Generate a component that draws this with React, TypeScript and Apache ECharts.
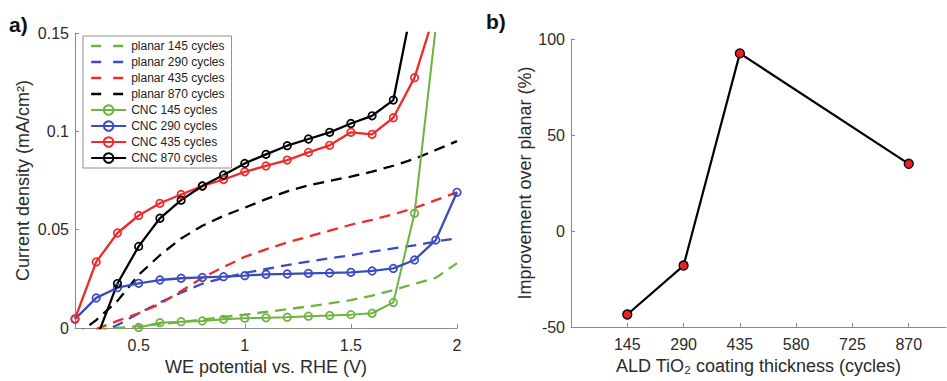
import React, { useEffect, useRef } from "react";
import * as echarts from "echarts";

// ---------- Data: panel a ----------
const potential = [0.2, 0.3, 0.4, 0.5, 0.6, 0.7, 0.8, 0.9, 1.0, 1.1, 1.2, 1.3, 1.4, 1.5, 1.6, 1.7, 1.8, 1.9, 2.0];

const planar145 = [null, -0.001, 0, 0.001, 0.002, 0.003, 0.0043, 0.0056, 0.0068, 0.0082, 0.0095, 0.011, 0.0125, 0.0142, 0.0165, 0.0193, 0.0225, 0.0255, 0.033];
const planar290 = [null, -0.003, 0.0015, 0.0074, 0.013, 0.018, 0.0225, 0.0255, 0.028, 0.03, 0.032, 0.0338, 0.0355, 0.037, 0.0388, 0.0405, 0.042, 0.044, 0.0456];
const planar435 = [null, -0.0005, 0.0036, 0.0075, 0.0122, 0.0188, 0.0255, 0.031, 0.0362, 0.04, 0.0435, 0.0465, 0.0495, 0.0525, 0.055, 0.0578, 0.061, 0.065, 0.069];
const planar870 = [-0.004, 0.004, 0.0138, 0.027, 0.037, 0.0455, 0.052, 0.057, 0.0612, 0.0655, 0.0695, 0.0725, 0.0748, 0.077, 0.0795, 0.0825, 0.086, 0.0905, 0.095];

const cnc145 = [null, null, null, 0.0003, 0.0027, 0.0032, 0.0036, 0.0044, 0.005, 0.0052, 0.0055, 0.006, 0.0064, 0.0068, 0.0075, 0.013, 0.0583, 0.153, null];
const cnc290 = [0.0045, 0.0153, 0.0205, 0.0227, 0.0244, 0.0253, 0.0257, 0.0261, 0.0266, 0.0273, 0.0275, 0.0278, 0.028, 0.0283, 0.029, 0.0303, 0.0346, 0.0447, 0.069];
const cnc435 = [0.0047, 0.0336, 0.0483, 0.0572, 0.0634, 0.0679, 0.0722, 0.0755, 0.0794, 0.0824, 0.0854, 0.0893, 0.0929, 0.0995, 0.0985, 0.1069, 0.1273, 0.162, null];
const cnc870 = [null, -0.0057, 0.0226, 0.0415, 0.0558, 0.065, 0.0722, 0.0778, 0.0837, 0.0883, 0.0927, 0.0961, 0.0995, 0.104, 0.1079, 0.1159, 0.17, null, null];

const seriesNames = [
  "planar 145 cycles", "planar 290 cycles", "planar 435 cycles", "planar 870 cycles",
  "CNC 145 cycles", "CNC 290 cycles", "CNC 435 cycles", "CNC 870 cycles",
];
const potentialTicks = [0.5, 1, 1.5, 2];

// ---------- Data: panel b ----------
const cycles = [145, 290, 435, 870];
const improvement = [-43.5, -18, 92.5, 35];
const cycleTicks = [145, 290, 435, 580, 725, 870];

const FONT = "Liberation Sans";
const GREEN = "#6DB33F";
const BLUE = "#3B4BC0";
const RED = "#EE2B2B";
const BLACK = "#000000";
const AXIS = "#8a8a8a";
const TEXT = "#2b2b2b";

const pair = (vals: (number | null)[]) =>
  potential.map((x, i) => [x, vals[i]]);

export default function App() {
  const ref = useRef<HTMLDivElement>(null);

  useEffect(() => {
    if (!ref.current) return;
    const chart = echarts.init(ref.current, undefined, { renderer: "svg" });

    const colors = [GREEN, BLUE, RED, BLACK];
    const planars = [planar145, planar290, planar435, planar870];
    const cncs = [cnc145, cnc290, cnc435, cnc870];

    const dashedSeries = planars.map((vals, i) => ({
      name: seriesNames[i],
      type: "line",
      xAxisIndex: 0,
      yAxisIndex: 0,
      data: pair(vals),
      symbol: "circle",
      showSymbol: false,
      clip: true,
      lineStyle: { color: colors[i], width: 2.3, type: [11, 7] },
      itemStyle: { color: "rgba(0,0,0,0)", borderWidth: 0 },
      z: 2,
    }));
    const cncSeries = cncs.map((vals, i) => ({
      name: seriesNames[i + 4],
      type: "line",
      xAxisIndex: 0,
      yAxisIndex: 0,
      data: pair(vals),
      symbol: "circle",
      symbolSize: 7.5,
      clip: true,
      connectNulls: false,
      lineStyle: { color: colors[i], width: i === 0 ? 2 : 2.3 },
      itemStyle: { color: "rgba(255,255,255,0)", borderColor: colors[i], borderWidth: 1.7 },
      z: 3,
    }));

    const axisCommon = {
      axisLine: { show: true, onZero: false, lineStyle: { color: AXIS, width: 1 } },
      axisTick: { show: true, inside: true, length: 4, lineStyle: { color: AXIS } },
      splitLine: { show: false },
      axisLabel: { color: TEXT, fontFamily: FONT, fontSize: 16 },
      nameTextStyle: { color: TEXT, fontFamily: FONT, fontSize: 18 },
    };

    const legendData = seriesNames.map((name, i) =>
      i < 4 ? { name, lineStyle: { color: colors[i], width: 2.3, type: [10, 12] } } : { name }
    );

    chart.setOption({
      animation: false,
      backgroundColor: "#ffffff",
      textStyle: { fontFamily: FONT },
      title: [
        { text: "a)", left: 9, top: 14, padding: 0, textStyle: { fontFamily: FONT, fontSize: 21, fontWeight: "bold", color: "#111" } },
        { text: "b)", left: 486, top: 11, padding: 0, textStyle: { fontFamily: FONT, fontSize: 21, fontWeight: "bold", color: "#111" } },
      ],
      legend: {
        data: legendData,
        orient: "vertical",
        left: 83,
        top: 36,
        padding: [4, 7, 4, 7],
        itemGap: 4,
        itemWidth: 35,
        itemHeight: 12,
        borderColor: "#8f8f8f",
        borderWidth: 1,
        backgroundColor: "#ffffff",
        textStyle: { fontFamily: FONT, fontSize: 12, color: "#222" },
        z: 10,
      },
      grid: [
        { left: 75, top: 33, width: 382, height: 295, containLabel: false },
        { left: 571, top: 39, width: 375, height: 288, containLabel: false },
      ],
      xAxis: [
        {
          ...axisCommon,
          type: "value",
          gridIndex: 0,
          min: 0.2,
          max: 2,
          name: "WE potential vs. RHE (V)",
          nameLocation: "middle",
          nameGap: 29,
          axisTick: { ...axisCommon.axisTick, customValues: potentialTicks },
          axisLabel: { ...axisCommon.axisLabel, margin: 9, customValues: potentialTicks, formatter: (v: number) => String(v) },
        },
        {
          ...axisCommon,
          type: "value",
          gridIndex: 1,
          min: 0,
          max: 966,
          name: "ALD TiO\u2082 coating thickness (cycles)",
          nameLocation: "middle",
          nameGap: 28,
          axisTick: { ...axisCommon.axisTick, customValues: cycleTicks },
          axisLabel: { ...axisCommon.axisLabel, margin: 9, customValues: cycleTicks, formatter: (v: number) => String(v) },
        },
      ],
      yAxis: [
        {
          ...axisCommon,
          type: "value",
          gridIndex: 0,
          min: 0,
          max: 0.15,
          interval: 0.05,
          name: "Current density (mA/cm\u00b2)",
          nameLocation: "middle",
          nameGap: 43,
          axisLabel: { ...axisCommon.axisLabel, margin: 6 },
        },
        {
          ...axisCommon,
          type: "value",
          gridIndex: 1,
          min: -50,
          max: 100,
          interval: 50,
          name: "Improvement over planar (%)",
          nameLocation: "middle",
          nameGap: 37,
          axisLabel: { ...axisCommon.axisLabel, margin: 6 },
        },
      ],
      series: [
        ...dashedSeries,
        ...cncSeries,
        {
          name: "improvement",
          type: "line",
          xAxisIndex: 1,
          yAxisIndex: 1,
          data: cycles.map((c, i) => [c, improvement[i]]),
          symbol: "circle",
          symbolSize: 9,
          lineStyle: { color: "#000", width: 2.2 },
          itemStyle: { color: "#E82020", borderColor: "#000", borderWidth: 1.3 },
        },
      ],
    });

    return () => chart.dispose();
  }, []);

  return <div ref={ref} style={{ width: 947, height: 381, position: "absolute", left: 0, top: 0 }} />;
}
